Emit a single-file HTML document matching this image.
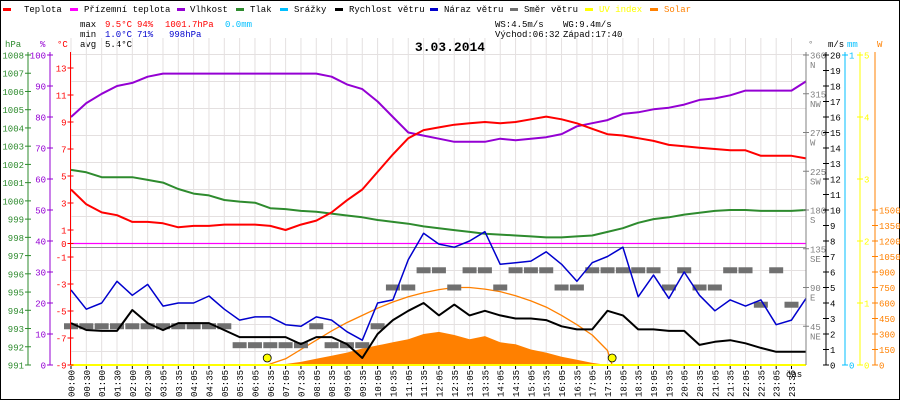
<!DOCTYPE html>
<html><head><meta charset="utf-8">
<style>
body{margin:0;background:#fff}
svg{display:block;font-family:"Liberation Mono",monospace;font-size:9px}
</style></head>
<body>
<svg id="chart" width="900" height="400" viewBox="0 0 900 400">
<rect x="0.5" y="0.5" width="899" height="399" fill="#fff" stroke="#000"/>
<g>
<rect x="3" y="8" width="8" height="3" fill="#ff0000"/><text x="24" y="12">Teplota</text>
<rect x="70" y="8" width="8" height="3" fill="#ff00ff"/><text x="84" y="12">Přízemní teplota</text>
<rect x="177" y="8" width="8" height="3" fill="#9400d3"/><text x="190" y="12">Vlhkost</text>
<rect x="236" y="8" width="8" height="3" fill="#2e8b2e"/><text x="250" y="12">Tlak</text>
<rect x="280" y="8" width="8" height="3" fill="#00bfff"/><text x="294" y="12">Srážky</text>
<rect x="335" y="8" width="8" height="3" fill="#000"/><text x="349" y="12">Rychlost větru</text>
<rect x="430" y="8" width="8" height="3" fill="#0000cd"/><text x="444" y="12">Náraz větru</text>
<rect x="510" y="8" width="8" height="3" fill="#707070"/><text x="524" y="12">Směr větru</text>
<rect x="585" y="8" width="8" height="3" fill="#ffff00"/><text x="599" y="12" fill="#ffff00">UV index</text>
<rect x="650" y="8" width="8" height="3" fill="#ff8000"/><text x="664" y="12" fill="#ff8000">Solar</text>
</g>
<g>
<text x="80" y="27">max</text>
<text x="105" y="27" fill="#f00">9.5°C</text>
<text x="137" y="27" fill="#f00">94%</text>
<text x="165" y="27" fill="#f00">1001.7hPa</text>
<text x="225" y="27" fill="#00bfff">0.0mm</text>
<text x="80" y="37">min</text>
<text x="105" y="37" fill="#0000cd">1.0°C</text>
<text x="137" y="37" fill="#0000cd">71%</text>
<text x="169" y="37" fill="#0000cd">998hPa</text>
<text x="80" y="47">avg</text>
<text x="105" y="47">5.4°C</text>
<text x="495" y="27">WS:4.5m/s</text>
<text x="563" y="27">WG:9.4m/s</text>
<text x="495" y="37">Východ:06:32</text>
<text x="563" y="37">Západ:17:40</text>
<text x="450" y="51" text-anchor="middle" font-weight="bold" font-size="13">3.03.2014</text>
</g>
<g id="grid"></g>
<g id="marks"></g>
<g id="axes"></g>
</svg>
<script>
const timeLabels=["00:00","00:30","01:00","01:30","02:00","02:30","03:05","03:35","04:05","04:35","05:05","05:35","06:05","06:35","07:05","07:35","08:05","08:35","09:05","09:35","10:05","10:35","11:05","11:35","12:05","12:35","13:05","13:35","14:05","14:35","15:05","15:35","16:05","16:35","17:05","17:35","18:05","18:35","19:05","19:35","20:05","20:35","21:05","21:35","22:05","22:35","23:05","23:35"];
const temperature=[4.0,2.9,2.3,2.1,1.6,1.6,1.5,1.2,1.3,1.3,1.4,1.4,1.4,1.3,1.0,1.4,1.7,2.3,3.2,4.0,5.3,6.6,7.8,8.4,8.6,8.8,8.9,9.0,8.9,9.0,9.2,9.4,9.2,8.9,8.5,8.1,8.0,7.8,7.6,7.3,7.2,7.1,7.0,6.9,6.9,6.5,6.5,6.5,6.3];
const humidity=[80,84.5,87.5,90,91,93,94,94,94,94,94,94,94,94,94,94,94,93,90.5,89,85,80,75,74,73,72,72,72,73,72.5,73,73.5,74.5,77,78,79,81,81.5,82.5,83,84,85.5,86,87,88.5,88.5,88.5,88.5,91.5];
const pressure=[1001.7,1001.57,1001.3,1001.3,1001.3,1001.15,1001.0,1000.65,1000.4,1000.3,1000.05,999.96,999.9,999.6,999.55,999.45,999.4,999.3,999.2,999.1,998.95,998.85,998.75,998.6,998.5,998.4,998.3,998.2,998.15,998.1,998.05,998.0,998.0,998.05,998.1,998.3,998.5,998.8,999.0,999.1,999.25,999.35,999.45,999.5,999.5,999.45,999.45,999.45,999.5];
const windGust=[4.84,3.6,4.0,5.4,4.5,5.2,3.8,4.0,4.0,4.45,3.6,2.9,3.1,3.1,2.6,2.5,3.1,2.9,2.15,1.6,4.0,4.2,6.8,8.5,7.8,7.6,8.0,8.6,6.5,6.6,6.7,7.3,6.5,5.4,6.6,7.0,7.6,4.4,5.8,4.3,6.0,4.5,3.5,4.2,3.8,4.2,2.6,2.9,4.3];
const windSpeed=[2.7,2.26,2.2,2.2,3.55,2.7,2.25,2.7,2.7,2.7,2.25,1.8,1.8,1.8,1.8,1.35,1.8,1.8,1.35,0.45,2.0,2.9,3.5,4.0,3.2,3.9,3.2,3.5,3.2,3.0,3.0,2.9,2.5,2.3,2.3,3.5,3.2,2.3,2.3,2.2,2.2,1.3,1.5,1.6,1.4,1.1,0.85,0.85,0.85];
const windDir=[45,45,45,45,45,45,45,45,45,45,45,23,23,23,23,23,45,23,23,23,45,90,90,110,110,90,110,110,90,110,110,110,90,90,110,110,110,110,110,90,110,90,90,110,110,70,110,70];
const solarSlots=[14,15,16,17,18,19,20,21,22,23,24,25,26,27,28,29,30,31,32,33,34,35];
const solar=[10,30,60,90,120,160,190,220,250,300,320,290,250,280,220,200,150,120,80,50,20,0];
const solarTheoSlots=[12.8,14,15,16,17,18,19,20,21,22,23,24,25,26,27,28,29,30,31,32,33,34,35,35.3];
const solarTheo=[0,60,150,240,330,410,480,550,610,660,700,730,750,750,735,710,670,620,560,480,390,290,140,0];
const groundTemp=[0,0];
const sunEvents=[12.8,35.3];

const NS='http://www.w3.org/2000/svg';
const X0=71,DX=15.33,XR=806,YB=365,YT=55;
const xs=i=>Math.min(X0+DX*i,XR);
const yT=v=>243.5-13.5*v;
const yH=v=>YB-(YB-YT)*v/100;
const yP=v=>YT+(1008-v)*(YB-YT)/17;
const yW=v=>YB-(YB-YT)*v/20;
const yD=v=>YB-(YB-YT)*v/360;
const ySol=v=>YB-0.10333*v;
function el(tag,attrs,parent){const e=document.createElementNS(NS,tag);for(const k in attrs)e.setAttribute(k,attrs[k]);parent.appendChild(e);return e;}
const grid=document.getElementById('grid'),marks=document.getElementById('marks'),axes=document.getElementById('axes');
for(let i=0;i<timeLabels.length;i++){const g=el('line',{x1:xs(i),x2:xs(i),y1:38,y2:YB,stroke:'#e4e0e0'},grid);

}
for(let t=14;t>=-8;t-=2){const g=el('line',{x1:X0,x2:XR,y1:yT(t),y2:yT(t),stroke:'#e4e0e0'},grid);

}
const sep=el('line',{x1:X0,x2:XR,y1:247.5,y2:247.5,stroke:'#909090'},grid);


function line(vals,fy,color,w,name,xsArr){const pts=vals.map((v,i)=>(xsArr?xs(xsArr[i]):xs(i)).toFixed(1)+','+fy(v).toFixed(1)).join(' ');
const p=el('polyline',{points:pts,fill:'none',stroke:color,'stroke-width':w,'stroke-linejoin':'round'},marks);

return p;}
{const pts=solar.map((v,i)=>xs(solarSlots[i]).toFixed(1)+','+ySol(v).toFixed(1));
pts.unshift(xs(solarSlots[0])+','+YB);pts.push(xs(solarSlots[solarSlots.length-1])+','+YB);
const a=el('polygon',{points:pts.join(' '),fill:'#ff8000'},marks);

}
line(solarTheo,ySol,'#ff8000',1.3,'solar-theoretical-line',solarTheoSlots);
windDir.forEach((v,i)=>{const r=el('rect',{x:xs(i)-7,y:yD(v)-3,width:14,height:6,fill:'#707070'},marks);

});
line(humidity,yH,'#9400d3',2,'humidity-line');
line(pressure,yP,'#2e8b2e',2,'pressure-line');
line(temperature,yT,'#ff0000',2,'temperature-line');
{const g=el('line',{x1:X0,x2:XR,y1:yT(groundTemp[0]),y2:yT(groundTemp[1]),stroke:'#ff00ff','stroke-width':1.3},marks);

}
line(windGust,yW,'#0000cd',1.5,'wind-gust-line');
line(windSpeed,yW,'#000',2,'wind-speed-line');
{const u=el('line',{x1:X0,x2:XR,y1:YB,y2:YB,stroke:'#ffff00','stroke-width':2},marks);

}
sunEvents.forEach(s=>{const c=el('circle',{cx:xs(s),cy:358,r:4,fill:'#ffff00',stroke:'#000','stroke-width':0.8},marks);

});
function axis(x,color,ticks,fy,side,name,extra){const a=el('line',{x1:x,x2:x,y1:YT-3,y2:YB,stroke:color},axes);


ticks.forEach((t,i)=>{const y=fy(t);el('line',{x1:x-3,x2:x+3,y1:y,y2:y,stroke:color},axes);
const tx=el('text',{x:side<0?x-4:x+4,y:y+3.5,fill:color,'text-anchor':side<0?'end':'start'},axes);
tx.textContent=extra?extra[i]:t;

});}
const hpaTicks=[991,992,993,994,995,996,997,998,999,1000,1001,1002,1003,1004,1005,1006,1007,1008];
const humTicks=[0,10,20,30,40,50,60,70,80,90,100];
const tempTicks=[13,11,9,7,5,3,1,0,-1,-3,-5,-7,-9];
const msTicks=[0,1,2,3,4,5,6,7,8,9,10,11,12,13,14,15,16,17,18,19,20];
const dirTicks=[45,90,135,180,225,270,315,360];
const dirNames=["NE","E","SE","S","SW","W","NW","N"];
const uvTicks=[0,1,2,3,4,5];
const wTicks=[0,150,300,450,600,750,900,1050,1200,1350,1500];
axis(28,'#2e8b2e',hpaTicks,yP,-1,'pressure-axis');
axis(50,'#9400d3',humTicks,yH,-1,'humidity-axis');
axis(70.5,'#ff0000',tempTicks,yT,-1,'temperature-axis');
axis(806,'#808080',dirTicks,yD,1,'direction-axis');
dirTicks.forEach((t,i)=>{const tx=el('text',{x:810,y:yD(t)+13,fill:'#808080'},axes);tx.textContent=dirNames[i];

});
axis(826,'#000',msTicks,yW,1,'wind-axis');
axis(845,'#00bfff',[0,1],v=>YB-(YB-YT)*v,1,'rain-axis');
axis(860,'#ffff00',uvTicks,v=>YB-(YB-YT)*v/5,1,'uv-axis');
axis(875,'#ff8000',wTicks,ySol,1,'solar-axis');
[["hPa",5,'#2e8b2e'],["%",40,'#9400d3'],["°C",57,'#ff0000'],["°",808,'#808080'],["m/s",828,'#000'],["mm",847,'#00bfff'],["W",877,'#ff8000']].forEach(u=>{const tx=el('text',{x:u[1],y:47,fill:u[2]},axes);tx.textContent=u[0];

});
timeLabels.forEach((t,i)=>{const x=xs(i);el('line',{x1:x,x2:x,y1:YB+1,y2:YB+4,stroke:'#000'},axes);
const tx=el('text',{x:0,y:0,transform:`translate(${x+3.5},397) rotate(-90)`,'font-size':'9'},axes);tx.textContent=t;

});
{const tx=el('text',{x:786,y:377},axes);tx.textContent='čas';

}
</script>
</body></html>
